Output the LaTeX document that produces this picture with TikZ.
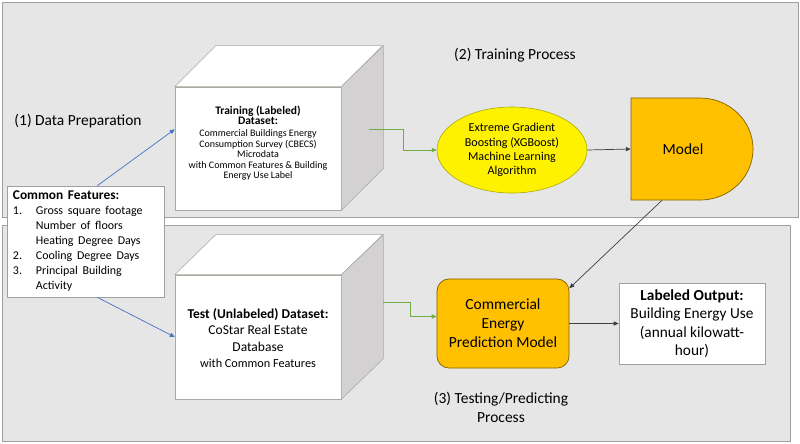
\documentclass[tikz,border=0pt]{standalone}
\usepackage{fontspec}
\setmainfont{Carlito}
\usepackage{xcolor}
\usepackage{tikz}
\usetikzlibrary{positioning,shapes.geometric,arrows.meta,calc}
\definecolor{panelgray}{HTML}{E7E6E6}
\definecolor{panelline}{HTML}{A0A0A0}
\definecolor{cubeline}{HTML}{A8ACA0}
\definecolor{cubeside}{HTML}{D3D1D1}
\definecolor{gold}{HTML}{FFC000}
\definecolor{goldline}{HTML}{7F6000}
\definecolor{algoline}{HTML}{A6A600}
\definecolor{arrowgreen}{HTML}{70AD47}
\definecolor{arrowblue}{HTML}{4472C4}
\definecolor{arrowdark}{HTML}{404040}
\newcommand{\trainhead}{\fontsize{8.2}{7.4}\selectfont\bfseries}
\newcommand{\testhead}{\fontsize{9.6}{11.5}\selectfont\bfseries}
\newcommand{\testsmall}{\fontsize{8.7}{10.5}\selectfont}

\begin{document}
\begin{tikzpicture}[
    x=0.025cm, y=-0.025cm,
    panel/.style={draw=panelline, fill=panelgray, line width=0.6pt},
    face/.style={rectangle, draw=cubeline, fill=white, line width=0.4pt, inner sep=0pt},
    topface/.style={draw=cubeline, fill=white, line width=0.4pt},
    sideface/.style={draw=cubeline, fill=cubeside, line width=0.4pt},
    featbox/.style={rectangle, draw=panelline, fill=white, line width=0.5pt, inner xsep=0.15cm, inner ysep=0pt,
        text width=3.625cm, minimum height=2.775cm},
    algo/.style={ellipse, draw=algoline, fill=yellow, line width=0.4pt, inner sep=0pt,
        minimum width=3.75cm, minimum height=2.15cm, align=center, font=\fontsize{8.6}{10.1}\selectfont},
    modelshape/.style={draw=goldline, fill=gold, line width=0.5pt},
    modelbox/.style={rectangle, inner sep=0pt, minimum width=3.05cm, minimum height=2.55cm,
        font=\fontsize{11}{13}\selectfont},
    predbox/.style={rectangle, rounded corners=0.3cm, draw=goldline, fill=gold, line width=0.5pt, inner sep=0pt,
        minimum width=3.3cm, minimum height=2.225cm, align=center, font=\fontsize{11}{13.4}\selectfont},
    outbox/.style={rectangle, draw=panelline, fill=white, line width=0.5pt, inner sep=0pt,
        minimum width=3.65cm, minimum height=2.025cm, align=center, font=\fontsize{10.9}{13.1}\selectfont},
    steplabel/.style={align=center, font=\fontsize{11}{13.4}\selectfont},
    link/.style={-{Triangle[length=3.5pt,width=3pt]}, line width=0.5pt},
]
\useasboundingbox (0,0) rectangle (800,443);

% panels
\draw[panel] (2,2) rectangle (798,217);
\draw[panel] (2,225) rectangle (790,441);

% training cube
\node[face, minimum width=4.15cm, minimum height=3.075cm] (train) at (258,148.5) {};
\draw[topface] (train.north west) -- ++(41,-41) -- ++(167,0) -- (train.north east) -- cycle;
\draw[sideface] (train.north east) -- ++(42,-41) -- ++(0,123) -- (train.south east) -- cycle;
\node[align=center, font=\fontsize{7.1}{7.5}\selectfont] (traintext) at (258,143)
    {\trainhead Training (Labeled)\\ \trainhead Dataset:\\[1pt]
     Commercial Buildings Energy\\ Consumption Survey (CBECS)\\ Microdata\\
     with Common Features \& Building\\ Energy Use Label};

% test cube
\node[face, minimum width=4.15cm, minimum height=3.1cm] (test) at (258,337) {};
\draw[topface] (test.north west) -- ++(41,-40) -- ++(167,0) -- (test.north east) -- cycle;
\draw[sideface] (test.north east) -- ++(42,-40) -- ++(0,124) -- (test.south east) -- cycle;
\node[align=center, font=\fontsize{9.6}{11.5}\selectfont] (testtext) at (258,338)
    {\testhead Test (Unlabeled) Dataset:\\
     CoStar Real Estate\\ Database\\
     \testsmall with Common Features};

% common features
\node[featbox] (feat) at (85.5,241.5) {%
    \fontsize{8.5}{10.6}\selectfont
    \begin{tabular}{@{}p{0.575cm}@{}l@{}}
    \multicolumn{2}{@{}l@{}}{\fontsize{9.5}{10.6}\selectfont\bfseries Common Features:}\\
    1. & Gross square footage\\
       & Number of floors\\
       & Heating Degree Days\\
    2. & Cooling Degree Days\\
    3. & Principal Building\\
       & Activity
    \end{tabular}};

% algorithm and model
\node[algo] (xgb) at (512,150) {Extreme Gradient\\ Boosting (XGBoost)\\ Machine Learning\\ Algorithm};
\draw[modelshape] (631,200) -- (631,98) -- (700,98)
    arc[start angle=90, end angle=-90, x radius=1.325cm, y radius=1.275cm] -- cycle;
\node[modelbox] (model) at (692,149) {Model\kern0.45cm};

% prediction and output
\node[predbox] (pred) at (503,323.5) {Commercial\\ Energy\\ Prediction Model};
\node[outbox] (out) at (692,323.5) {\textbf{Labeled Output:}\\ Building Energy Use\\ (annual kilowatt-\\ hour)};

% step labels
\node[steplabel] (prep) at (78,121) {(1) Data Preparation};
\node[steplabel] (trainstep) at (515,55) {(2) Training Process};
\node[steplabel] (teststep) at (501,407.5) {(3) Testing/Predicting\\ Process};

% connectors
\coordinate (trainout) at ($(train.east)+(28,-19.5)$);
\coordinate (testout) at ($(test.east)+(42,-35)$);
\draw[link, arrowblue] (feat.78) -- (train.167);
\draw[link, arrowblue] (feat.282) -- (test.west);
\draw[link, arrowgreen] (trainout) -- ++(34,0) |- (xgb.west);
\draw[link, arrowgreen] (testout) -- ++(27,0) |- (pred.174);
\draw[link, arrowdark] (xgb.east) -- (model.west);
\draw[link, arrowdark] ([xshift=-0.75cm]model.south) -- (pred.28);
\draw[link, arrowdark] (pred.east) -- (out.west);

\end{tikzpicture}
\end{document}
